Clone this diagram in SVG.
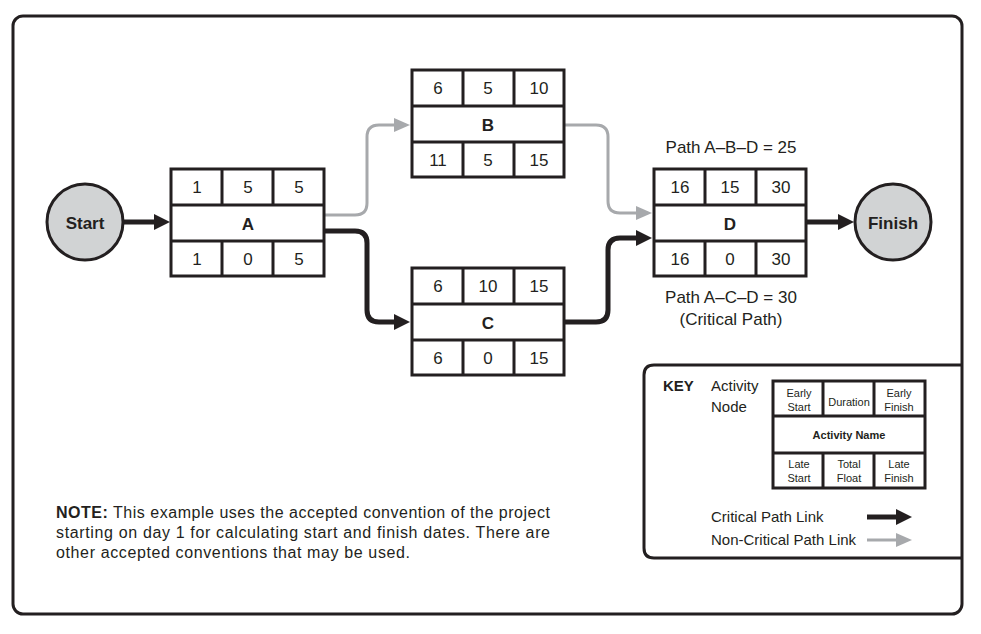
<svg xmlns="http://www.w3.org/2000/svg" width="981" height="634" viewBox="0 0 981 634">
<style>
text{font-family:"Liberation Sans",Arial,sans-serif;fill:#231f20}
.n{font-size:17px;text-anchor:middle}
.b{font-weight:bold}
.box{fill:#fff;stroke:#231f20;stroke-width:3}
.k{font-size:11px;text-anchor:middle}
.crit{fill:none;stroke:#231f20;stroke-width:5;stroke-linejoin:round}
.non{fill:none;stroke:#a7a9ac;stroke-width:3}
</style>
<defs>
<marker id="ab" markerWidth="16" markerHeight="18" refX="2" refY="9" orient="auto" markerUnits="userSpaceOnUse"><path d="M0,1 L16,9 L0,17Z" fill="#231f20"/></marker>
<marker id="ag" markerWidth="16" markerHeight="16" refX="2" refY="8" orient="auto" markerUnits="userSpaceOnUse"><path d="M0,1 L16,8 L0,15Z" fill="#a7a9ac"/></marker>
</defs>
<rect x="0" y="0" width="981" height="634" fill="#fff"/>
<rect x="13" y="16" width="949" height="598" rx="10" fill="none" stroke="#231f20" stroke-width="3"/>
<g id="connectors">
<line x1="123" y1="222" x2="156" y2="222" class="crit" marker-end="url(#ab)"/>
<line x1="806" y1="222" x2="840" y2="222" class="crit" marker-end="url(#ab)"/>
<path d="M324,215 H355 Q367,215 367,203 V137 Q367,125 379,125 H396" class="non" marker-end="url(#ag)"/>
<path d="M324,231 H355 Q367,231 367,243 V310 Q367,322 379,322 H396" class="crit" marker-end="url(#ab)"/>
<path d="M564,125 H596 Q608,125 608,137 V201 Q608,213 620,213 H638" class="non" marker-end="url(#ag)"/>
<path d="M564,322 H596 Q608,322 608,310 V250 Q608,238 620,238 H638" class="crit" marker-end="url(#ab)"/>
</g>
<g id="start"><circle cx="85" cy="222" r="38" fill="#d1d3d4" stroke="#231f20" stroke-width="3"/><text x="85" y="229" class="n b" font-size="20">Start</text></g>
<g id="finish"><circle cx="893" cy="222" r="38" fill="#d1d3d4" stroke="#231f20" stroke-width="3"/><text x="893" y="229" class="n b" font-size="20">Finish</text></g>
<g id="nodeA">
<rect x="171" y="169" width="153" height="107" class="box"/>
<path d="M171,205H324M171,241H324M222,169V205M273,169V205M222,241V276M273,241V276" stroke="#231f20" stroke-width="3"/>
<text x="197" y="193" class="n">1</text><text x="248" y="193" class="n">5</text><text x="299" y="193" class="n">5</text>
<text x="248" y="230" class="n b" font-size="19">A</text>
<text x="197" y="265" class="n">1</text><text x="248" y="265" class="n">0</text><text x="299" y="265" class="n">5</text>
</g>
<g id="nodeB">
<rect x="412" y="70" width="152" height="107" class="box"/>
<path d="M412,106H564M412,142H564M463,70V106M514,70V106M463,142V177M514,142V177" stroke="#231f20" stroke-width="3"/>
<text x="438" y="94" class="n">6</text><text x="488" y="94" class="n">5</text><text x="539" y="94" class="n">10</text>
<text x="488" y="131" class="n b" font-size="19">B</text>
<text x="438" y="166" class="n">11</text><text x="488" y="166" class="n">5</text><text x="539" y="166" class="n">15</text>
</g>
<g id="nodeC">
<rect x="412" y="268" width="152" height="107" class="box"/>
<path d="M412,304H564M412,340H564M463,268V304M514,268V304M463,340V375M514,340V375" stroke="#231f20" stroke-width="3"/>
<text x="438" y="292" class="n">6</text><text x="488" y="292" class="n">10</text><text x="539" y="292" class="n">15</text>
<text x="488" y="329" class="n b" font-size="19">C</text>
<text x="438" y="364" class="n">6</text><text x="488" y="364" class="n">0</text><text x="539" y="364" class="n">15</text>
</g>
<g id="nodeD">
<rect x="654" y="169" width="152" height="107" class="box"/>
<path d="M654,205H806M654,241H806M705,169V205M756,169V205M705,241V276M756,241V276" stroke="#231f20" stroke-width="3"/>
<text x="680" y="193" class="n">16</text><text x="730" y="193" class="n">15</text><text x="781" y="193" class="n">30</text>
<text x="730" y="230" class="n b" font-size="19">D</text>
<text x="680" y="265" class="n">16</text><text x="730" y="265" class="n">0</text><text x="781" y="265" class="n">30</text>
</g>
<g id="labels">
<text x="731" y="153" class="n" font-size="14">Path A–B–D = 25</text>
<text x="731" y="303" class="n" font-size="14">Path A–C–D = 30</text>
<text x="731" y="325" class="n" font-size="14">(Critical Path)</text>
<text x="56" y="518" font-size="16" textLength="494"><tspan font-weight="bold">NOTE:</tspan> This example uses the accepted convention of the project</text>
<text x="56" y="538" font-size="16" textLength="494">starting on day 1 for calculating start and finish dates. There are</text>
<text x="56" y="558" font-size="16" textLength="354">other accepted conventions that may be used.</text>
</g>
<g id="key">
<path d="M962,365 H654 Q644,365 644,375 V548 Q644,558 654,558 H962" fill="none" stroke="#231f20" stroke-width="3"/>
<text x="663" y="391" font-size="15" font-weight="bold">KEY</text>
<text x="711" y="391" font-size="15">Activity</text>
<text x="711" y="412" font-size="15">Node</text>
<rect x="773" y="381" width="152" height="107" class="box"/>
<path d="M773,416H925M773,453H925M823,381V416M874,381V416M823,453V488M874,453V488" stroke="#231f20" stroke-width="3"/>
<text x="799" y="397" class="k">Early</text><text x="799" y="411" class="k">Start</text>
<text x="849" y="406" class="k">Duration</text>
<text x="899" y="397" class="k">Early</text><text x="899" y="411" class="k">Finish</text>
<text x="849" y="439" class="k b">Activity Name</text>
<text x="799" y="468" class="k">Late</text><text x="799" y="482" class="k">Start</text>
<text x="849" y="468" class="k">Total</text><text x="849" y="482" class="k">Float</text>
<text x="899" y="468" class="k">Late</text><text x="899" y="482" class="k">Finish</text>
<text x="711" y="522" font-size="15">Critical Path Link</text>
<text x="711" y="545" font-size="15">Non-Critical Path Link</text>
<line x1="867" y1="517" x2="898" y2="517" class="crit" marker-end="url(#ab)"/>
<line x1="867" y1="540" x2="898" y2="540" class="non" marker-end="url(#ag)"/>
</g>
</svg>
